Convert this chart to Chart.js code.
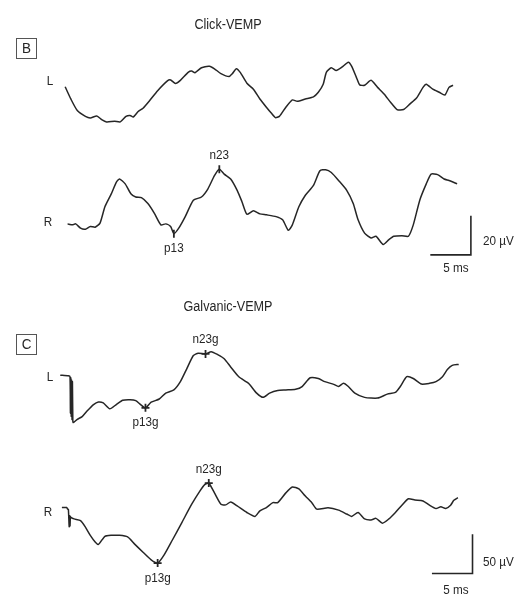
<!DOCTYPE html>
<html>
<head>
<meta charset="utf-8">
<script src="https://cdn.jsdelivr.net/npm/chart.js@4.4.1/dist/chart.umd.min.js"></script>
<style>
  html, body { margin: 0; padding: 0; background: #fff; }
  canvas { display: block; }
</style>
</head>
<body>
<canvas id="vempChart" width="521" height="597"></canvas>
<script>
// traces: time in ms, amplitude in µV (negative = up)
const clickLeftMs = [-0.4, 0.3, 1.1, 2.1, 2.7, 3.5, 4.1, 4.7, 5.7, 6.4, 7.1, 7.6, 8.0, 8.6, 9.2, 10.0, 11.0, 12.2, 12.6, 13.2, 13.8, 14.8, 15.2, 15.6, 16.4, 17.4, 18.0, 18.8, 19.8, 20.2, 20.7, 21.2, 22.0, 22.8, 23.6, 24.4, 25.0, 25.5, 26.0, 26.8, 27.6, 28.2, 29.2, 30.2, 30.8, 31.4, 31.8, 32.4, 33.0, 33.7, 34.5, 34.9, 35.5, 35.9, 36.5, 37.3, 38.1, 38.9, 39.7, 40.5, 41.3, 42.1, 42.9, 43.7, 44.1, 44.9, 45.7, 46.4, 46.9, 47.4];
const clickLeftUv = [-3.7, 2.5, 8.4, 11.4, 12.2, 11.2, 13.0, 14.2, 13.9, 14.2, 11.4, 10.9, 11.7, 8.9, 7.2, 3.4, -1.7, -6.7, -7.2, -5.4, -7.0, -11.2, -11.7, -10.9, -13.4, -14.2, -12.9, -10.4, -8.9, -10.4, -12.9, -10.9, -5.5, -2.5, 2.5, 6.7, 9.7, 12.0, 11.4, 6.7, 3.0, 3.7, 2.5, 1.4, -0.9, -5.0, -11.2, -13.4, -12.0, -13.7, -16.2, -14.2, -8.4, -4.7, -4.5, -7.0, -3.4, 0.0, 4.2, 7.9, 7.9, 5.0, 2.0, -3.4, -5.0, -2.5, -0.9, 0.5, -3.4, -4.5];

const clickRightMs = [-0.1, 0.5, 0.9, 1.5, 2.1, 2.7, 3.3, 3.9, 4.5, 5.3, 5.9, 6.3, 7.0, 7.7, 8.3, 9.0, 9.8, 10.6, 11.4, 12.0, 12.6, 13.0, 13.6, 14.4, 15.4, 16.4, 17.2, 18.0, 18.6, 19.2, 20.0, 20.8, 21.4, 22.0, 22.8, 23.6, 24.4, 25.6, 26.4, 27.1, 27.6, 28.4, 29.2, 30.2, 31.0, 31.7, 32.4, 33.3, 34.3, 35.1, 35.7, 36.5, 37.3, 37.9, 38.8, 39.5, 40.1, 41.1, 41.9, 42.5, 43.3, 44.1, 44.7, 45.5, 46.3, 46.9, 47.9];
const clickRightUv = [0.2, 0.7, 0.2, 2.4, 2.9, 1.5, 1.9, -0.2, -8.5, -15.2, -21.0, -22.7, -20.2, -15.2, -13.5, -13.2, -10.2, -5.2, 0.7, 0.2, 1.5, 5.2, 2.4, -3.5, -11.9, -13.5, -17.7, -24.4, -27.7, -25.2, -22.7, -16.9, -11.0, -4.7, -6.5, -4.9, -4.4, -3.5, -1.9, 3.5, 0.7, -8.5, -14.4, -19.4, -26.9, -27.4, -26.0, -21.9, -16.9, -10.2, -1.9, 4.9, 7.4, 6.5, 10.7, 8.2, 6.5, 6.2, 6.5, 0.7, -11.9, -20.2, -25.2, -24.9, -22.7, -21.9, -20.2];

const galvLeftMs = [-1.0, 0.0, 0.2, 0.25, 0.3, 0.35, 0.4, 0.45, 0.5, 0.55, 0.6, 1.1, 1.7, 2.3, 3.1, 3.7, 4.3, 5.1, 5.9, 6.7, 7.6, 8.3, 8.9, 9.5, 10.2, 11.2, 12.0, 13.0, 13.8, 14.6, 15.4, 16.0, 16.9, 17.6, 18.4, 19.2, 20.0, 21.0, 22.2, 23.2, 24.0, 24.8, 25.8, 26.8, 28.0, 28.8, 29.8, 30.8, 31.6, 32.7, 33.3, 33.9, 34.5, 35.3, 36.5, 38.1, 39.3, 40.3, 40.9, 41.7, 42.5, 43.5, 44.5, 45.3, 46.1, 46.7, 47.3, 48.1];
const galvLeftUv = [-0.4, 0.4, 1.6, 48, 3, 52, 6, 56, 8, 58, 60, 55.9, 52.5, 45.4, 37.1, 33.8, 35.0, 42.5, 37.1, 31.6, 30.9, 32.1, 37.1, 41.3, 34.1, 30.0, 22.5, 18.4, 7.9, -8.8, -25.4, -28.4, -27.5, -30.4, -26.6, -21.3, -10.9, 1.6, 10.0, 22.5, 27.9, 22.5, 19.1, 18.4, 17.5, 14.1, 2.9, 3.8, 7.9, 11.3, 14.1, 10.0, 14.1, 22.5, 27.9, 28.8, 23.8, 21.6, 14.1, 1.6, 3.8, 10.9, 10.0, 7.9, 1.6, -7.5, -12.9, -14.1];

const galvRightMs = [-0.8, -0.2, -0.1, 0.0, 0.1, 0.15, 0.2, 0.25, 0.3, 0.7, 1.5, 2.1, 2.7, 3.3, 3.7, 4.5, 5.3, 6.3, 7.3, 8.2, 9.2, 10.2, 11.0, 11.8, 12.8, 14.0, 15.2, 16.2, 16.8, 17.3, 18.0, 18.8, 19.4, 20.0, 20.8, 22.0, 23.0, 23.6, 24.4, 25.2, 25.8, 26.8, 27.6, 28.4, 29.2, 30.0, 30.6, 32.0, 33.3, 34.3, 34.9, 35.7, 36.5, 37.3, 37.9, 38.7, 39.5, 40.3, 41.1, 41.9, 42.7, 43.7, 44.5, 45.3, 45.9, 46.5, 47.1, 47.5, 48.0];
const galvRightUv = [-0.4, -0.4, 1.6, 2, 24, 10, 23, 11, 12.1, 14.1, 16.3, 24.6, 35.0, 43.4, 46.6, 36.3, 35.0, 35.0, 37.1, 46.6, 56.6, 66.3, 70.4, 60.0, 41.3, 18.4, -4.6, -21.3, -29.6, -31.6, -19.1, -4.6, -3.8, -7.5, -2.5, 5.9, 10.9, 3.8, -0.4, -6.6, -6.6, -19.1, -26.6, -24.1, -15.0, -6.6, 1.6, 0.0, 2.9, 7.9, 10.9, 5.9, 14.1, 15.4, 13.4, 19.6, 14.1, 5.9, -3.4, -11.6, -10.0, -8.8, -3.4, 0.9, -1.3, 0.9, -3.4, -9.6, -12.9];

// marked peaks
const clickPeakNames = ['p13', 'n23'];
const clickPeakMs = [13.0, 18.6];
const clickPeakUv = [5.2, -27.7];
const galvPeakNames = ['p13g', 'n23g'];
const galvLeftPeakMs = [9.5, 16.9];
const galvLeftPeakUv = [41.3, -27.5];
const galvRightPeakMs = [11.0, 17.3];
const galvRightPeakUv = [70.4, -31.6];

// calibration bars
const barMs = 5;
const clickBarUv = 20;
const galvBarUv = 50;

// ---- layout ----
const W = 521, H = 597;
const PX_PER_MS = 8.3, ZERO_X = 64;
const FONT = '"Liberation Sans", Arial, sans-serif';
const INK = '#262626';

function yAxis(basePx, pxPerUv) {
    return { type: 'linear', display: false, reverse: true, min: -basePx / pxPerUv, max: (H - basePx) / pxPerUv };
}

function pts(ms, uv) {
    return ms.map((t, i) => ({ x: t, y: uv[i] }));
}

function trace(ms, uv, axis) {
    return {
        data: pts(ms, uv), yAxisID: axis,
        borderColor: INK, borderWidth: 1.5, pointRadius: 0, tension: 0.2,
    };
}

function marks(ms, uv, axis, style) {
    return {
        data: pts(ms, uv), yAxisID: axis, showLine: false,
        pointStyle: style, rotation: style === 'line' ? 90 : 0, pointRadius: 4,
        pointBorderColor: INK, pointBorderWidth: 1.8, pointBackgroundColor: INK,
    };
}

// L-shaped calibration bar, corner at (cornerMs, cornerUv)
function calBar(cornerMs, cornerUv, uv, axis) {
    return {
        data: [{ x: cornerMs - barMs, y: cornerUv }, { x: cornerMs, y: cornerUv }, { x: cornerMs, y: cornerUv - uv }],
        yAxisID: axis, borderColor: INK, borderWidth: 1.6, pointRadius: 0, tension: 0,
    };
}

// slightly condensed text, like the figure's narrow sans
function say(c, txt, x, y, align) {
    c.save();
    c.translate(x, y);
    c.scale(0.9, 1);
    c.textAlign = align || 'center';
    c.fillText(txt, 0, 0);
    c.restore();
}

const textPlugin = {
    id: 'vempText',
    afterDraw(chart) {
        const c = chart.ctx;
        const x = chart.scales.x;
        c.save();
        c.fillStyle = INK;
        c.textBaseline = 'middle';

        c.font = '14px ' + FONT;
        say(c, 'Click-VEMP', 228, 25);
        say(c, 'Galvanic-VEMP', 228, 307);

        // panel boxes
        c.strokeStyle = '#555';
        c.lineWidth = 1;
        [['B', 48.5], ['C', 344.5]].forEach(([t, cy]) => {
            c.strokeRect(16.5, cy - 10, 20, 20);
            c.font = '15px ' + FONT;
            say(c, t, 26.5, cy + 0.5);
        });

        c.font = '13px ' + FONT;
        say(c, 'L', 50, 81);
        say(c, 'R', 48, 222);
        say(c, 'L', 50, 377);
        say(c, 'R', 48, 512);

        const peakLabel = (names, ms, uv, axis) => {
            const y = chart.scales[axis];
            names.forEach((n, i) => {
                const px = x.getPixelForValue(ms[i]);
                const py = y.getPixelForValue(uv[i]);
                say(c, n, px, n[0] === 'p' ? py + 15 : py - 14);
            });
        };
        peakLabel(clickPeakNames, clickPeakMs, clickPeakUv, 'bR');
        peakLabel(galvPeakNames, galvLeftPeakMs, galvLeftPeakUv, 'cL');
        peakLabel(galvPeakNames, galvRightPeakMs, galvRightPeakUv, 'cR');

        // calibration labels
        say(c, clickBarUv + ' µV', 483, 241, 'left');
        say(c, galvBarUv + ' µV', 483, 562, 'left');
        say(c, barMs + ' ms', 456, 268);
        say(c, barMs + ' ms', 456, 590);
        c.restore();
    },
};

new Chart(document.getElementById('vempChart').getContext('2d'), {
    type: 'line',
    data: {
        datasets: [
            trace(clickLeftMs, clickLeftUv, 'bL'),
            trace(clickRightMs, clickRightUv, 'bR'),
            trace(galvLeftMs, galvLeftUv, 'cL'),
            trace(galvRightMs, galvRightUv, 'cR'),
            marks(clickPeakMs, clickPeakUv, 'bR', 'line'),
            marks(galvLeftPeakMs, galvLeftPeakUv, 'cL', 'cross'),
            marks(galvRightPeakMs, galvRightPeakUv, 'cR', 'cross'),
            calBar(49.6, 16, clickBarUv, 'bR'),
            calBar(49.8, 83.75, galvBarUv, 'cR'),
        ],
    },
    options: {
        responsive: false,
        animation: false,
        events: [],
        layout: { padding: 0 },
        plugins: { legend: { display: false }, tooltip: { enabled: false } },
        scales: {
            x: { type: 'linear', display: false, min: -ZERO_X / PX_PER_MS, max: (W - ZERO_X) / PX_PER_MS },
            bL: yAxis(90, 2),
            bR: yAxis(222, 2),
            cL: yAxis(377, 0.8),
            cR: yAxis(512, 0.8),
        },
    },
    plugins: [textPlugin],
});
</script>
</body>
</html>
